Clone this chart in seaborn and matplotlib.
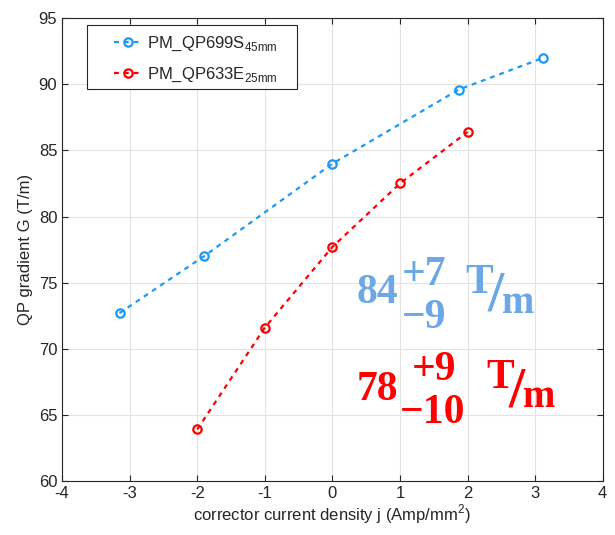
import matplotlib
matplotlib.use("Agg")
import matplotlib.pyplot as plt
from matplotlib.patches import Rectangle
import seaborn as sns
import pandas as pd

# Measured gradient vs corrector current density for two quadrupole designs
j_699 = [-3.15, -1.9, 0.0, 1.87, 3.12]
g_699 = [72.7, 77.0, 84.0, 89.6, 92.0]
j_633 = [-2.0, -1.0, 0.0, 1.0, 2.0]
g_633 = [63.9, 71.6, 77.7, 82.5, 86.4]

label_699 = r"PM_QP699S$_{\mathrm{45mm}}$"
label_633 = r"PM_QP633E$_{\mathrm{25mm}}$"

x_ticks = [-4, -3, -2, -1, 0, 1, 2, 3, 4]
y_ticks = [60, 65, 70, 75, 80, 85, 90, 95]

df = pd.concat([
    pd.DataFrame({"j": j_699, "G": g_699, "magnet": label_699}),
    pd.DataFrame({"j": j_633, "G": g_633, "magnet": label_633}),
])

sns.set_style("whitegrid")
plt.rcParams["font.family"] = ["Liberation Sans", "DejaVu Sans"]
plt.rcParams["mathtext.fontset"] = "custom"
plt.rcParams["mathtext.rm"] = "Liberation Sans"

blue = "#1A9AF5"
red = "#FF0000"
dash = (0, (2.2, 2.2))

fig = plt.figure(figsize=(6.15, 5.35), dpi=100)
ax = fig.add_axes([0.101, 0.101, 0.879, 0.865])

sns.lineplot(data=df, x="j", y="G", hue="magnet", palette=[blue, red],
             marker="o", markersize=6, markerfacecolor="none",
             markeredgewidth=1.6, linewidth=1.6, ax=ax, sort=False)
for line in ax.get_lines():
    line.set_linestyle(dash)
    line.set_markeredgecolor(line.get_color())

ax.set_xlim(-4, 4)
ax.set_ylim(60, 95)
ax.set_xticks(x_ticks)
ax.set_yticks(y_ticks)
ax.set_xticklabels([str(t) for t in x_ticks], fontsize=12)
ax.set_yticklabels([str(t) for t in y_ticks], fontsize=12)
ax.tick_params(direction="in", length=4, color="#262626", labelcolor="#262626",
               top=True, right=True, bottom=True, left=True)
ax.grid(True, color="#e3e3e3", linewidth=0.8)
for s in ax.spines.values():
    s.set_color("#262626")
    s.set_linewidth(0.8)

ax.set_xlabel(r"corrector current density j (Amp/mm$^{\mathrm{2}}$)", fontsize=12, color="#262626", labelpad=1)
ax.set_ylabel("QP gradient G (T/m)", fontsize=12, color="#262626", labelpad=4)

# Legend entries without their own frame; the box is drawn separately
leg = ax.legend(loc="upper left", bbox_to_anchor=(0.086, 0.976),
                borderaxespad=0, fontsize=12, frameon=False,
                handlelength=1.75, handletextpad=0.25, borderpad=0.3,
                labelspacing=0.78)
leg.set_zorder(6)
for h in leg.get_lines():
    h.set_linestyle(dash)
    h.set_markerfacecolor("none")
    h.set_markeredgecolor(h.get_color())
ax.add_patch(Rectangle((0.046, 0.847), 0.388, 0.138, transform=ax.transAxes,
                       facecolor="white", edgecolor="#262626", linewidth=0.8,
                       zorder=5))

# Gradient with its asymmetric tuning range, one block per design
serif = ["Liberation Serif", "DejaVu Serif"]
def annotate(color, main, up, down, unit):
    kw = dict(color=color, fontweight="bold", family=serif,
              ha="left", va="baseline", transform=ax.transData)
    ax.text(main[0], main[1], main[2], fontsize=30, **kw)
    ax.text(up[0], up[1], up[2], fontsize=30, **kw)
    ax.text(down[0], down[1], down[2], fontsize=30, **kw)
    (tx, ty), (sx, sy), (mx, my) = unit
    ax.text(tx, ty, "T", fontsize=30, **kw)
    ax.text(sx, sy, "/", fontsize=42, **kw)
    ax.text(mx, my, "m", fontsize=28, **kw)

annotate("#6CA8E6",
         (0.36, 73.45, "84"), (1.03, 74.8, "+7"), (1.03, 71.55, "\u22129"),
         [(1.97, 74.2), (2.30, 72.9), (2.51, 72.7)])
annotate("#FF0000",
         (0.36, 66.1, "78"), (1.17, 67.6, "+9"), (1.0, 64.4, "\u221210"),
         [(2.28, 67.0), (2.60, 65.65), (2.82, 65.6)])

fig.savefig("out.png", dpi=100)
